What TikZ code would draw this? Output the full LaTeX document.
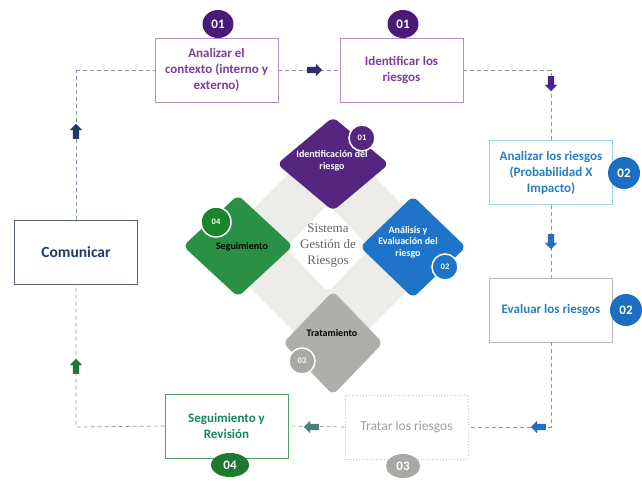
\documentclass[tikz,border=0pt]{standalone}
\usepackage{fontspec}
\setmainfont{Carlito}
\newfontfamily\centerserif{Liberation Serif}
\usetikzlibrary{shapes.arrows,shapes.geometric}
\definecolor{pdark}{HTML}{4A1A78}
\definecolor{pdiam}{HTML}{55267F}
\definecolor{ptext}{HTML}{7A3E9D}
\definecolor{pborder}{HTML}{B58BC8}
\definecolor{bblue}{HTML}{1C6FC2}
\definecolor{bdiam}{HTML}{1E74C8}
\definecolor{btext}{HTML}{2A7CC9}
\definecolor{bborder}{HTML}{9AD4E6}
\definecolor{gdark}{HTML}{1B7A2F}
\definecolor{gdiam}{HTML}{2A9046}
\definecolor{gtext}{HTML}{16895A}
\definecolor{gborder}{HTML}{4FA060}
\definecolor{greyb}{HTML}{A8A8A4}
\definecolor{greyd}{HTML}{AFAFAA}
\definecolor{navy}{HTML}{1F3A66}
\definecolor{dashc}{HTML}{8A9AAE}
\definecolor{bgdiam}{HTML}{EEECE8}
\tikzset{
  box/.style={draw, line width=0.8pt, fill=white, minimum width=123pt, minimum height=64pt,
    align=center, inner sep=2pt, font=\bfseries\fontsize{13}{16}\selectfont},
  badge/.style={ellipse, inner sep=0, minimum width=31pt, minimum height=28pt, text=white,
    font=\bfseries\fontsize{13}{13}\selectfont},
  conn/.style={draw=dashc, dashed, dash pattern=on 4pt off 3pt, line width=0.7pt},
  blockarrow/.style={single arrow, draw=none, inner sep=3pt, minimum height=15pt,
    single arrow head extend=3pt},
  dia/.style={diamond, inner sep=0, draw=none, rounded corners=6pt},
  diatext/.style={align=center, font=\bfseries\fontsize{10}{11.5}\selectfont},
  dbadge/.style={circle, draw=white, line width=1.5pt, inner sep=0, minimum size=26pt,
    text=white, font=\bfseries\fontsize{8.5}{8.5}\selectfont},
}
\begin{document}
\begin{tikzpicture}[x=1pt,y=-1pt]
\useasboundingbox (0,0) rectangle (642,480);
% central graphic
\node[dia, fill=bgdiam, minimum width=236pt, minimum height=236pt, rounded corners=10pt] (bg) at (330,250) {};
\node[dia, fill=white, minimum width=84pt, minimum height=88pt] (wc) at (328,248) {};
\node[dia, fill=pdiam, minimum width=112pt, minimum height=94pt] (dp) at (333,164) {};
\node[dia, fill=bdiam, minimum width=106pt, minimum height=102pt] (db) at (413,247) {};
\node[dia, fill=gdiam, minimum width=110pt, minimum height=102pt] (dg) at (238,246) {};
\node[dia, fill=greyd, minimum width=100pt, minimum height=104pt] (dt) at (333,343) {};
\node[diatext, text=white] (tp) at (332,161) {Identificación del\\riesgo};
\node[diatext, text=white] (tb) at (408,242) {Análisis y\\Evaluación del\\riesgo};
\node[diatext, text=black] (tg) at (242,247) {Seguimiento};
\node[diatext, text=black] (tt) at (332,333) {Tratamiento};
\node[align=center, text=black!60, font=\centerserif\fontsize{13}{16}\selectfont] (tc) at (328,246) {Sistema\\Gestión de\\Riesgos};
\node[dbadge, fill=pdiam] (dp1) at (362,138) {01};
\node[dbadge, fill=bdiam] (db2) at (445,267) {02};
\node[dbadge, fill=greyb] (dt3) at (302,361) {03};
\node[dbadge, fill=gdark!90!green, minimum size=30pt] (dg4) at (216,222) {04};
% boxes
\node[box, draw=pborder, text=ptext] (ctx) at (216.5,70) {Analizar el\\contexto (interno y\\externo)};
\node[box, draw=pborder, text=ptext] (ide) at (401.5,70) {Identificar los\\riesgos};
\node[box, draw=bborder, text=btext] (ana) at (551,172.5) {Analizar los riesgos\\(Probabilidad X\\Impacto)};
\node[box, draw=gray!55, text=btext] (eva) at (551,310) {Evaluar los riesgos};
\node[box, draw=gray!45, dotted, text=gray!75, font=\fontsize{13.5}{16}\selectfont] (tra) at (406.5,427) {Tratar los riesgos};
\node[box, draw=gborder, text=gtext] (seg) at (226.5,426) {Seguimiento y\\Revisión};
\node[box, draw=gray!60!navy, text=navy, font=\bfseries\fontsize{15.5}{18}\selectfont] (com) at (76,252.5) {Comunicar};
% badges
\node[badge, fill=pdark] (b1) at (218,24) {01};
\node[badge, fill=pdark] (b2) at (403,24) {01};
\node[badge, fill=bblue, minimum width=32pt, minimum height=32pt] (b3) at (624,173) {02};
\node[badge, fill=bblue, minimum width=32pt, minimum height=32pt] (b4) at (626,310) {02};
\node[badge, fill=greyb, minimum width=34pt, minimum height=24pt] (b5) at (403,466) {03};
\node[badge, fill=gdark, minimum width=38pt, minimum height=24pt] (b6) at (230,465) {04};
% corner coordinates
\coordinate (c1) at (76,70);
\coordinate (c2) at (551,70);
\coordinate (c3) at (551,427);
\coordinate (c4) at (76,427);
% connectors
\draw[conn] (c1) -- (ctx.west);
\draw[conn] (ctx.east) -- (ide.west);
\draw[conn] (ide.east) -- (c2) -- (ana.north);
\draw[conn] (ana.south) -- (eva.north);
\draw[conn] (eva.south) -- (c3) -- (tra.east);
\draw[conn] (tra.west) -- (seg.east);
\draw[conn] (seg.west) -- (c4) -- (com.south);
\draw[conn] (com.north) -- (c1);
% block arrows
\node[blockarrow, fill=navy!80!violet] (a1) at (313,70) {};
\node[blockarrow, fill=pdiam!85!blue, shape border rotate=270] (a2) at (551,82) {};
\node[blockarrow, fill=bblue, shape border rotate=270] (a3) at (551,240) {};
\node[blockarrow, fill=bblue, shape border rotate=180] (a4) at (540,427) {};
\node[blockarrow, fill=teal!40!gray, shape border rotate=180] (a5) at (313,427) {};
\node[blockarrow, fill=gdark, shape border rotate=90] (a6) at (76,368) {};
\node[blockarrow, fill=navy, shape border rotate=90] (a7) at (76,133) {};
\end{tikzpicture}
\end{document}
